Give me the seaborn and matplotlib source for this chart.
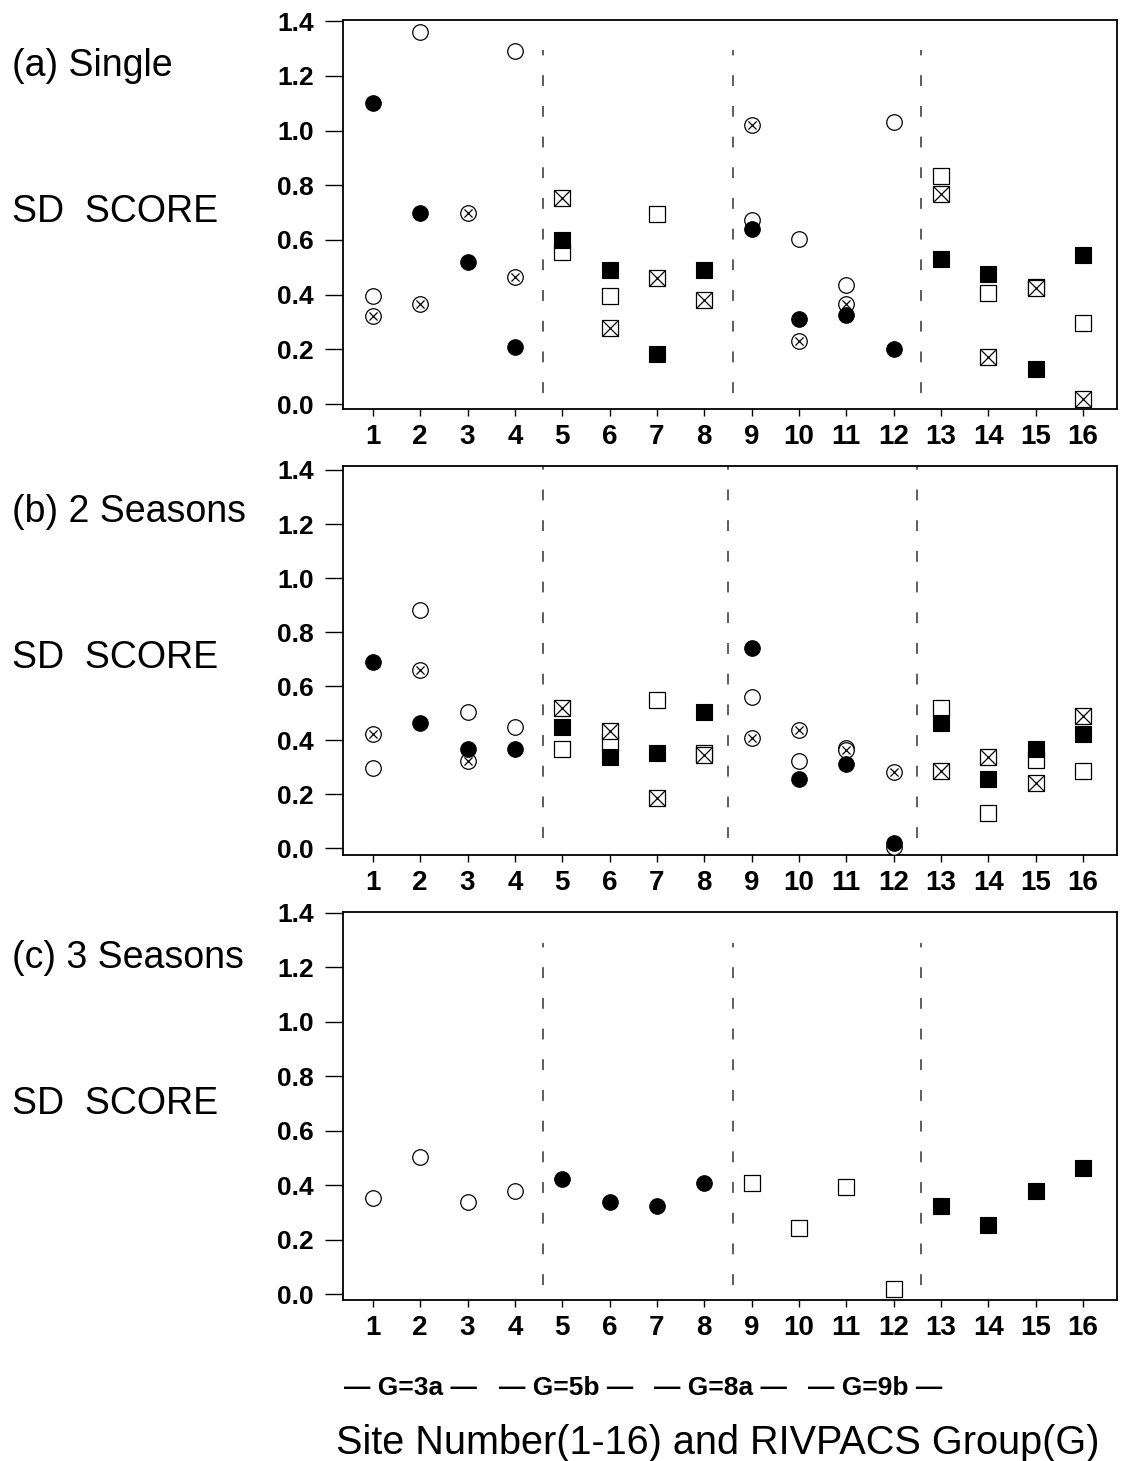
import numpy as np
import pandas as pd
import matplotlib
matplotlib.use("Agg")
import matplotlib.pyplot as plt
import seaborn as sns

# Data
sites = list(range(1, 17))
groups = ["3a"] * 4 + ["5b"] * 4 + ["8a"] * 4 + ["9b"] * 4
group_labels = ["G=3a", "G=5b", "G=8a", "G=9b"]
nan = np.nan

# (a) single season
a_filled = [1.10, 0.70, 0.52, 0.21, 0.60, 0.49, 0.185, 0.49,
            0.64, 0.31, 0.325, 0.20, 0.53, 0.475, 0.13, 0.545]
a_open = [0.395, 1.36, nan, 1.29, 0.557, 0.395, 0.696, nan,
          0.672, 0.602, 0.435, 1.03, 0.835, 0.407, 0.43, 0.297]
a_crossed = [0.324, 0.365, 0.70, 0.463, 0.755, 0.28, 0.462, 0.38,
             1.02, 0.229, 0.365, nan, 0.768, 0.173, 0.423, 0.02]

# (b) 2 seasons
b_filled = [0.688, 0.463, 0.366, 0.366, 0.45, 0.339, 0.354, 0.506,
            0.742, 0.255, 0.312, 0.018, 0.465, 0.255, 0.366, 0.423]
b_open = [0.296, 0.883, 0.506, 0.45, 0.366, 0.389, 0.549, 0.354,
          0.561, 0.324, 0.37, 0.004, 0.52, 0.13, 0.327, 0.284]
b_crossed = [0.423, 0.66, 0.324, nan, 0.52, 0.435, 0.185, 0.345,
             0.409, 0.438, 0.364, 0.281, 0.284, 0.339, 0.241, 0.491]

# (c) 3 seasons
c_values = [0.351, 0.504, 0.337, 0.378, 0.421, 0.337, 0.323, 0.406,
            0.406, 0.241, 0.394, 0.018, 0.323, 0.253, 0.379, 0.461]

yticks = [0.0, 0.2, 0.4, 0.6, 0.8, 1.0, 1.2, 1.4]
ytick_labels = ["0.0", "0.2", "0.4", "0.6", "0.8", "1.0", "1.2", "1.4"]

sns.set_theme(style="white")
plt.rcParams["font.family"] = ["Liberation Sans", "DejaVu Sans"]
plt.rcParams["text.color"] = "black"

W, H = 1121, 1461
fig = plt.figure(figsize=(W / 100, H / 100), dpi=100)

# shapes per group
shape_ab = {"3a": "o", "5b": "s", "8a": "o", "9b": "s"}
shape_c = {"3a": "o", "5b": "o", "8a": "s", "9b": "s"}
fill_c = {"3a": "open", "5b": "filled", "8a": "open", "9b": "filled"}

S = 125  # marker area (pt^2)


def draw_points(ax, df, kind):
    for marker in ["o", "s"]:
        sub = df[(df["marker"] == marker) & df["value"].notna()]
        if sub.empty:
            continue
        if kind == "filled":
            sns.scatterplot(data=sub, x="site", y="value", marker=marker, s=S,
                            color="black", edgecolor="black", linewidth=0.8,
                            ax=ax, legend=False, zorder=5)
        else:
            sns.scatterplot(data=sub, x="site", y="value", marker=marker, s=S,
                            color="white", edgecolor="black", linewidth=0.9,
                            ax=ax, legend=False, zorder=3 if kind == "open" else 4)
        if kind == "crossed":
            sx = 34 if marker == "o" else S
            ax.scatter(sub["site"], sub["value"], marker="x", s=sx,
                       color="black", linewidths=0.9, zorder=4)


def style_axes(ax, ylim, dash_x, dash_range):
    ax.set_xlim(0.37, 16.72)
    ax.set_ylim(*ylim)
    ax.vlines(dash_x, dash_range[0], dash_range[1], colors="#505050",
              linestyles=(0, (6, 11)), linewidth=1.3, zorder=1)
    ax.set_xticks(sites)
    ax.set_xticklabels([str(s) for s in sites], fontsize=20, fontweight="bold",
                       color="black")
    ax.set_yticks(yticks)
    ax.set_yticklabels(ytick_labels, fontsize=19, fontweight="bold",
                       color="black")
    ax.tick_params(axis="y", direction="out", length=13, width=1.0, pad=8,
                   left=True, colors="black")
    ax.tick_params(axis="x", direction="out", length=5, width=1.0, pad=6,
                   bottom=True, colors="black")
    for sp in ax.spines.values():
        sp.set_color("black")
        sp.set_linewidth(1.3)
        sp.set_visible(True)
    ax.set_xlabel("")
    ax.set_ylabel("")
    ax.grid(False)


panels = [
    ("(a) Single", [0.306, 0.720, 0.6905, 0.2663], (-0.018, 1.404),
     [4.6, 8.6, 12.58], (0.04, 1.295), 20,
     {"open": a_open, "crossed": a_crossed, "filled": a_filled}),
    ("(b) 2 Seasons", [0.306, 0.4148, 0.6905, 0.2663], (-0.025, 1.415),
     [4.6, 8.5, 12.5], (0.038, 1.415), 466,
     {"open": b_open, "crossed": b_crossed, "filled": b_filled}),
    ("(c) 3 Seasons", [0.306, 0.1102, 0.6905, 0.2656], (-0.022, 1.403),
     [4.6, 8.6, 12.58], (0.033, 1.29), 912, None),
]

for title, rect, ylim, dash_x, dash_range, top_px, series in panels:
    ax = fig.add_axes(rect)
    if series is not None:
        for kind in ["open", "crossed", "filled"]:
            df = pd.DataFrame({"site": sites, "value": series[kind],
                               "marker": [shape_ab[g] for g in groups]})
            draw_points(ax, df, kind)
    else:
        df = pd.DataFrame({"site": sites, "value": c_values,
                           "marker": [shape_c[g] for g in groups],
                           "fill": [fill_c[g] for g in groups]})
        for kind in ["open", "filled"]:
            draw_points(ax, df[df["fill"] == kind], kind)
    style_axes(ax, ylim, dash_x, dash_range)
    fig.text(12 / W, 1 - (top_px + 46) / H, title, fontsize=27,
             ha="left", va="center", color="black")
    fig.text(12 / W, 1 - (top_px + 192) / H, "SD  SCORE", fontsize=27,
             ha="left", va="center", color="black")

# group labels and axis title
for lbl, cx in zip(group_labels, [410, 566, 720, 875]):
    fig.text(cx / W, 1 - 1388 / H, "\u2014 " + lbl + " \u2014", fontsize=19,
             fontweight="bold", ha="center", va="center", color="black")
fig.text(718 / W, 1 - 1443 / H, "Site Number(1-16) and RIVPACS Group(G)",
         fontsize=28.5, ha="center", va="center", color="black")

fig.savefig("out.png", dpi=100, facecolor="white")
